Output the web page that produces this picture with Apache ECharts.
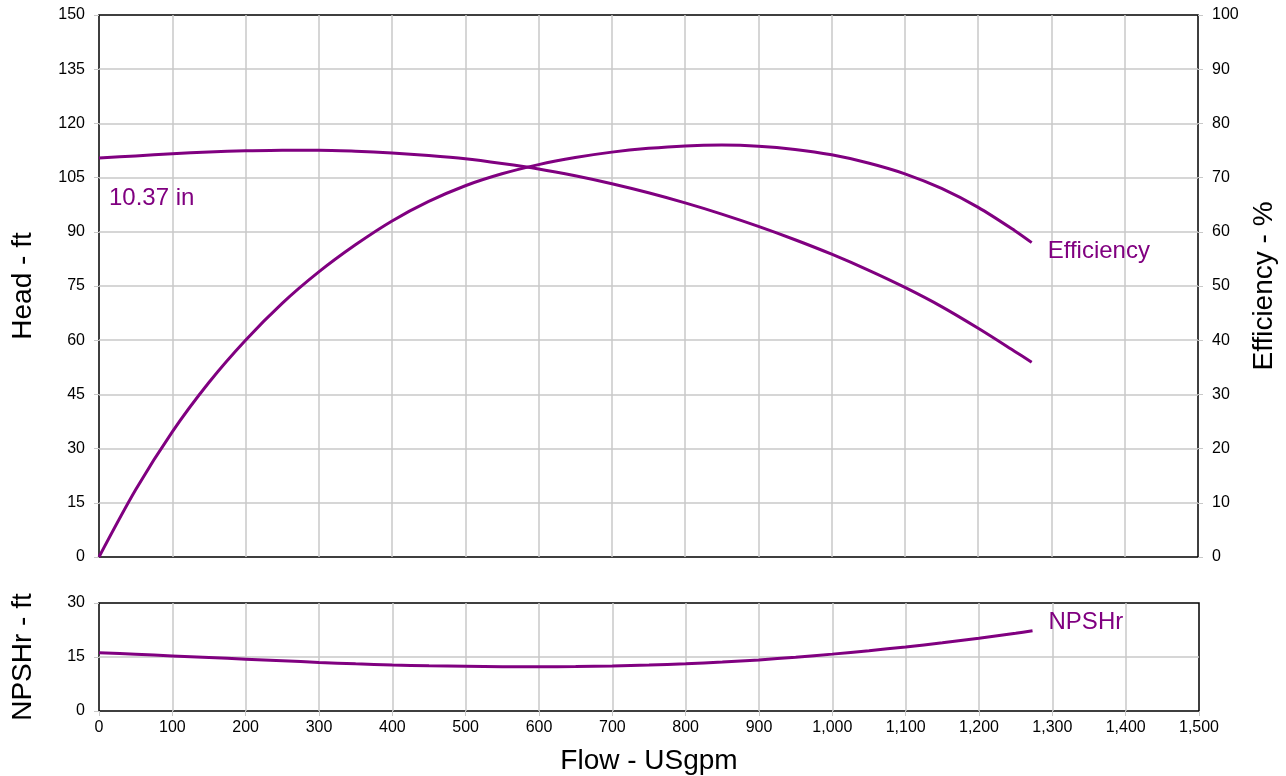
<!DOCTYPE html>
<html>
<head>
<meta charset="utf-8">
<script src="https://cdn.jsdelivr.net/npm/echarts@6/dist/echarts.min.js"></script>
<style>html,body{margin:0;padding:0;background:#fff}#c{width:1286px;height:776px}</style>
</head>
<body>
<div id="c"></div>
<script>
var flow = [0,50,100,150,200,250,300,350,400,450,500,550,600,650,700,750,800,850,900,950,1000,1050,1100,1150,1200,1250,1273];
var headVals = [110.4,111.0,111.6,112.1,112.4,112.6,112.6,112.3,111.8,111.1,110.2,108.9,107.4,105.5,103.3,100.8,98.0,94.9,91.5,87.8,83.8,79.4,74.6,69.3,63.3,56.9,53.9];
var effVals = [0,12.4,23.1,32.2,40.0,46.8,52.6,57.6,62.0,65.6,68.5,70.7,72.4,73.7,74.7,75.4,75.85,76.0,75.8,75.2,74.2,72.7,70.7,68.0,64.5,60.2,58.0];
var npshVals = [16.2,15.75,15.3,14.85,14.4,13.95,13.5,13.1,12.8,12.55,12.4,12.3,12.3,12.35,12.5,12.75,13.1,13.6,14.2,14.95,15.8,16.75,17.8,18.95,20.2,21.6,22.3];
var impellerLabel = '10.37 in';

function pairs(xs, ys){ return xs.map(function(x,i){ return [x, ys[i]]; }); }

var FONT = 'Liberation Sans, Arial, sans-serif';
var PURPLE = '#800080';
var GRIDC = '#c8c8c8';
var chart = echarts.init(document.getElementById('c'));
var tickLbl = {color:'#000', fontSize:16, fontFamily:FONT};
var split = {show:true, showMinLine:false, showMaxLine:false, lineStyle:{color:GRIDC, width:1.5}};
var titleStyle = {fontSize:28, color:'#000', fontFamily:FONT};
chart.setOption({
  animation:false,
  backgroundColor:'#fff',
  grid:[
    {left:99, top:15, width:1100, height:542, show:true, borderColor:'#000', borderWidth:1.5, backgroundColor:'transparent'},
    {left:99, top:603, width:1100, height:109, show:true, borderColor:'#000', borderWidth:1.5, backgroundColor:'transparent'}
  ],
  xAxis:[
    {type:'value', gridIndex:0, min:0, max:1500, interval:100,
     axisLine:{show:false}, axisTick:{show:false}, axisLabel:{show:false},
     splitLine:split},
    {type:'value', gridIndex:1, min:0, max:1500, interval:100,
     axisLine:{show:false}, axisTick:{show:true, length:5, lineStyle:{color:GRIDC}},
     axisLabel:Object.assign({margin:9, formatter:function(v){return v.toLocaleString('en-US');}}, tickLbl),
     splitLine:split,
     name:'Flow - USgpm', nameLocation:'middle', nameGap:36, nameTextStyle:titleStyle}
  ],
  yAxis:[
    {type:'value', gridIndex:0, min:0, max:150, interval:15, position:'left',
     axisLine:{show:false}, axisTick:{show:true, length:5, lineStyle:{color:GRIDC}},
     axisLabel:Object.assign({margin:14}, tickLbl),
     splitLine:split,
     name:'Head - ft', nameLocation:'middle', nameGap:62, nameRotate:90, nameTextStyle:titleStyle},
    {type:'value', gridIndex:0, min:0, max:100, interval:10, position:'right',
     axisLine:{show:false}, axisTick:{show:true, length:5, lineStyle:{color:GRIDC}},
     axisLabel:Object.assign({margin:14}, tickLbl),
     splitLine:{show:false},
     name:'Efficiency - %', nameLocation:'middle', nameGap:52, nameRotate:90, nameTextStyle:titleStyle},
    {type:'value', gridIndex:1, min:0, max:30, interval:15, position:'left',
     axisLine:{show:false}, axisTick:{show:true, length:5, lineStyle:{color:GRIDC}},
     axisLabel:Object.assign({margin:14}, tickLbl),
     splitLine:split,
     name:'NPSHr - ft', nameLocation:'middle', nameGap:62, nameRotate:90, nameTextStyle:titleStyle}
  ],
  series:[
    {type:'line', name:'Head', xAxisIndex:0, yAxisIndex:0, smooth:0.3, showSymbol:false,
     lineStyle:{color:PURPLE, width:3}, itemStyle:{color:PURPLE},
     data:pairs(flow, headVals)},
    {type:'line', name:'Efficiency', xAxisIndex:0, yAxisIndex:1, smooth:0.3, showSymbol:false,
     lineStyle:{color:PURPLE, width:3}, itemStyle:{color:PURPLE},
     endLabel:{show:true, formatter:'Efficiency', color:PURPLE, fontSize:24, fontFamily:FONT, offset:[8,9]},
     data:pairs(flow, effVals)},
    {type:'line', name:'NPSHr', xAxisIndex:1, yAxisIndex:2, smooth:0.3, showSymbol:false,
     lineStyle:{color:PURPLE, width:3}, itemStyle:{color:PURPLE},
     endLabel:{show:true, formatter:'NPSHr', color:PURPLE, fontSize:24, fontFamily:FONT, offset:[8,-8]},
     data:pairs(flow, npshVals)}
  ],
  graphic:[
    {type:'text', left:109, top:186, style:{text:impellerLabel, fill:PURPLE, fontSize:24, fontFamily:FONT}}
  ]
});
</script>
</body>
</html>
